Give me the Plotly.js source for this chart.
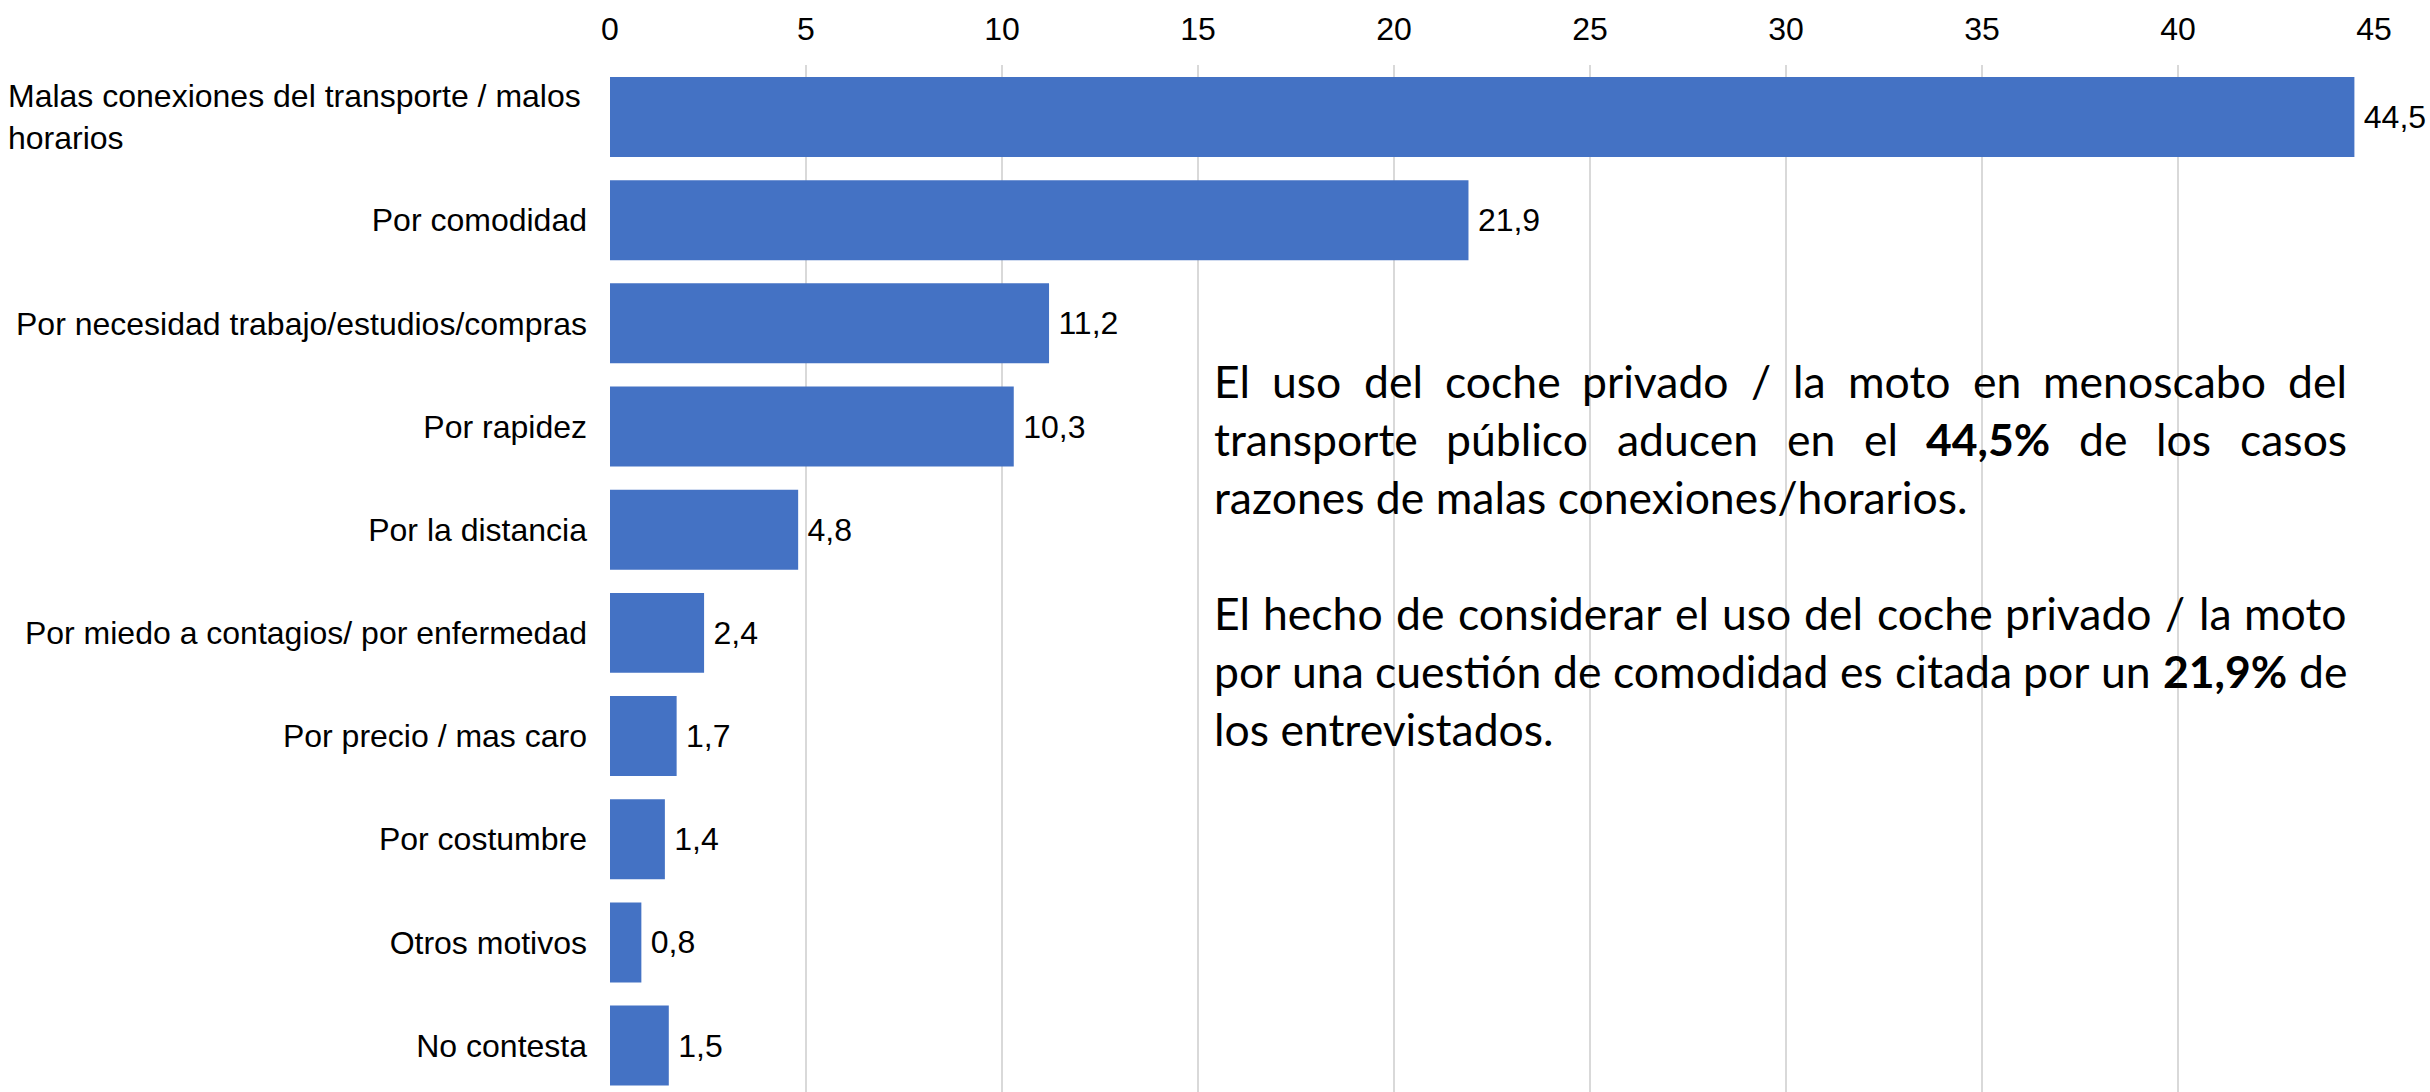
<!DOCTYPE html>
<html><head><meta charset="utf-8">
<script src="https://cdn.plot.ly/plotly-3.0.1.min.js"></script>
<style>html,body{margin:0;padding:0;background:#fff}</style>
</head><body><div id="chart" style="width:2430px;height:1092px"></div>
<script>
const categories = [
  "Malas conexiones del transporte / malos<br>horarios",
  "Por comodidad",
  "Por necesidad trabajo/estudios/compras",
  "Por rapidez",
  "Por la distancia",
  "Por miedo a contagios/ por enfermedad",
  "Por precio / mas caro",
  "Por costumbre",
  "Otros motivos",
  "No contesta"
];
const values = [44.5, 21.9, 11.2, 10.3, 4.8, 2.4, 1.7, 1.4, 0.8, 1.5];
const tickValues = [0, 5, 10, 15, 20, 25, 30, 35, 40, 45];

const noteLines = [
  "El uso del coche privado / la moto en menoscabo del",
  "transporte público aducen en el **44,5%** de los casos",
  "razones de malas conexiones/horarios.",
  "",
  "El hecho de considerar el uso del coche privado / la moto",
  "por una cuestión de comodidad es citada por un **21,9%** de",
  "los entrevistados."
];
const noteJustify = [true, true, false, false, true, true, false];

// ---- layout geometry ----
const W = 2430, H = 1092;
const M = {l: 610, r: 56, t: 65, b: 0};
const plotW = W - M.l - M.r, plotH = H - M.t - M.b;
const px2x = p => (p - M.l) / plotW;
const py2y = p => (H - M.b - p) / plotH;

const noteFont = "Lato";
const boxLeft = 1213, boxRight = 2346;
const boxW = boxRight - boxLeft;
const firstBaseline = 398, lineStep = 58;

const cv = document.createElement('canvas');
const ctx = cv.getContext('2d');
function measure(word, bold, fs) {
  ctx.font = (bold ? 'bold ' : '') + fs + 'px ' + noteFont;
  return ctx.measureText(word).width;
}
function parseWords(line) {
  return line.split(' ').map(w => {
    const b = w.startsWith('**');
    return {t: w.replace(/\*\*/g, ''), b: b};
  });
}
// choose font size so that justified lines fit the box (with normal word spaces)
let fs = 44.5;
noteLines.forEach((ln, i) => {
  if (!noteJustify[i]) return;
  const ws = parseWords(ln);
  const nat = ws.reduce((s, w) => s + measure(w.t, w.b, fs), 0) + (ws.length - 1) * measure(' ', false, fs);
  if (nat > boxW) fs = Math.floor(fs * boxW / nat * 10) / 10;
});

const annotations = [];
noteLines.forEach((ln, i) => {
  if (!ln) return;
  const baseline = firstBaseline + i * lineStep;
  const yc = py2y(baseline - 0.387 * fs);
  if (noteJustify[i]) {
    const ws = parseWords(ln);
    const widths = ws.map(w => measure(w.t, w.b, fs));
    const total = widths.reduce((a, b) => a + b, 0);
    const gap = (boxW - total) / (ws.length - 1);
    let x = boxLeft;
    ws.forEach((w, k) => {
      annotations.push({
        xref: 'paper', yref: 'paper', x: px2x(x), y: yc,
        xanchor: 'left', yanchor: 'middle', showarrow: false,
        text: w.b ? '<b>' + w.t + '</b>' : w.t,
        font: {family: noteFont, size: fs, color: '#000'}, borderpad: 0
      });
      x += widths[k] + gap;
    });
  } else {
    annotations.push({
      xref: 'paper', yref: 'paper', x: px2x(boxLeft), y: yc,
      xanchor: 'left', yanchor: 'middle', showarrow: false,
      text: ln.replace(/\*\*(.+?)\*\*/g, '<b>$1</b>'),
      font: {family: noteFont, size: fs, color: '#000'}, borderpad: 0
    });
  }
});

// first category label left-aligned over two lines
const yTickText = categories.map((c, i) => i === 0 ? '' : c);
annotations.push({
  xref: 'paper', yref: 'y', x: px2x(582), y: categories[0],
  xanchor: 'right', yanchor: 'middle', align: 'left', showarrow: false,
  text: categories[0],
  font: {family: 'Liberation Sans, Arial, sans-serif', size: 32, color: '#000'}, borderpad: 0
});

const trace = {
  type: 'bar', orientation: 'h',
  y: categories, x: values,
  marker: {color: '#4472C4'},
  texttemplate: '\u2009%{x:.1f}', textposition: 'outside',
  cliponaxis: false, constraintext: 'none',
  textfont: {family: 'Liberation Sans, Arial, sans-serif', size: 32, color: '#000'},
  hoverinfo: 'skip'
};

const layout = {
  width: W, height: H,
  margin: M,
  paper_bgcolor: '#fff', plot_bgcolor: '#fff',
  separators: ',.',
  bargap: 0.225,
  showlegend: false,
  font: {family: 'Liberation Sans, Arial, sans-serif', size: 32, color: '#000'},
  xaxis: {
    side: 'top', range: [0, 45], tickmode: 'array', tickvals: tickValues,
    ticktext: tickValues.map(String),
    showgrid: true, gridcolor: '#d9d9d9', gridwidth: 2,
    zeroline: false, showline: false, ticks: '', ticklabelstandoff: 18,
    tickfont: {size: 32, color: '#000'}
  },
  yaxis: {
    type: 'category', range: [9.45, -0.504],
    tickmode: 'array', tickvals: categories, ticktext: yTickText,
    showgrid: false, zeroline: false, showline: false, ticks: '',
    ticklabelstandoff: 22, tickfont: {size: 32, color: '#000'}
  },
  annotations: annotations
};

Plotly.newPlot('chart', [trace], layout, {displayModeBar: false, staticPlot: true});
</script>
</body></html>
